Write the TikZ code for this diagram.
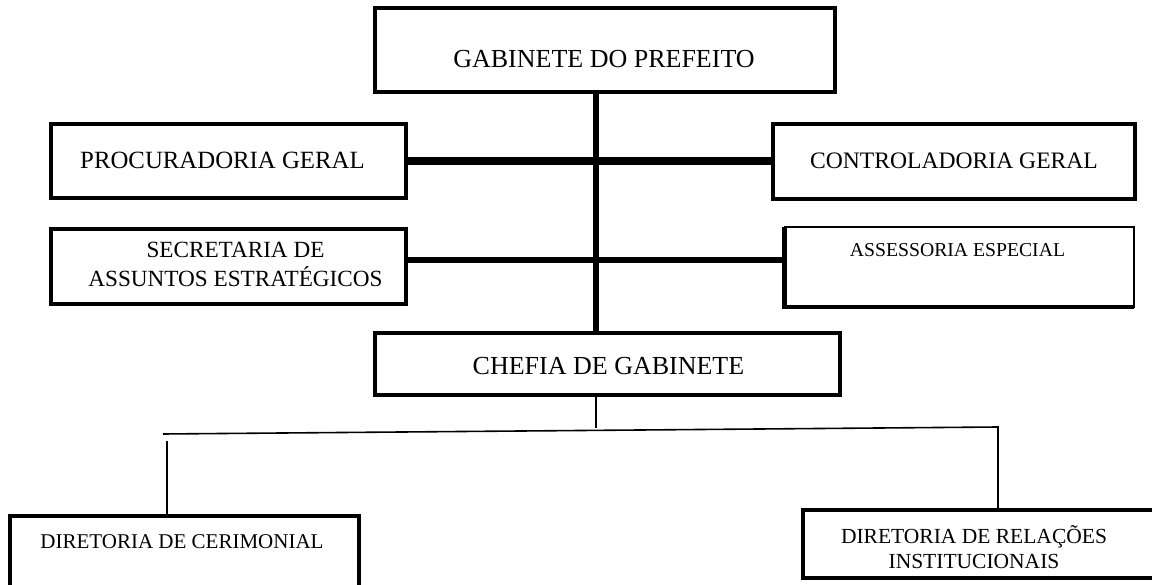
\documentclass[tikz,border=0pt]{standalone}
\usepackage{fontspec}
\setmainfont{Liberation Serif}
\tikzset{
  box/.style={draw, rectangle, line width=4pt, inner sep=0pt, outer sep=0pt},
  lbl/.style={inner sep=0pt, anchor=base},
  trunk/.style={line width=6pt},
  thinline/.style={line width=1.6pt},
}
\newcommand{\fs}[1]{\fontsize{#1}{#1}\selectfont}
\begin{document}
\begin{tikzpicture}[x=1pt,y=-1pt]
\useasboundingbox (0,0) rectangle (1152,585);
\clip (0,0) rectangle (1152,585);
% boxes
\node[box, minimum width=460pt, minimum height=84.5pt] (gab) at (605,50.25) {};
\node[box, minimum width=355pt, minimum height=74pt] (proc) at (228,161) {};
\node[box, minimum width=355pt, minimum height=75.5pt] (sec) at (228,266.75) {};
\node[box, minimum width=362.5pt, minimum height=75pt] (ctrl) at (953.75,161.5) {};
\node[box, line width=2pt, minimum width=349.5pt, minimum height=80pt] (asse) at (959.25,267) {};
\draw[line width=4.5pt] (asse.north west) -- (asse.south west) -- (asse.south east);
\node[box, minimum width=465pt, minimum height=61.5pt] (chef) at (607.5,364.25) {};
\node[box, minimum width=349pt, minimum height=104.5pt] (cer) at (184.5,567.75) {};
\node[box, minimum width=367.5pt, minimum height=68.5pt] (rel) at (986.25,543.75) {};
% texts
\node[lbl, font=\fs{26}] (gabT) at (604,68) {GABINETE DO PREFEITO};
\node[lbl, font=\fs{24.8}] (procT) at (222.5,169) {PROCURADORIA GERAL};
\node[lbl, font=\fs{23.6}] (ctrlT) at (954,169) {CONTROLADORIA GERAL};
\node[lbl, font=\fs{23.2}] (secA) at (235.5,258) {SECRETARIA DE};
\node[lbl, font=\fs{23.2}] (secB) at (235.5,287) {ASSUNTOS ESTRATÉGICOS};
\node[lbl, font=\fs{19.7}] (asseT) at (957.5,257) {ASSESSORIA ESPECIAL};
\node[lbl, font=\fs{26}] (chefT) at (608.5,374) {CHEFIA DE GABINETE};
\node[lbl, font=\fs{21}] (cerT) at (182,548) {DIRETORIA DE CERIMONIAL};
\node[lbl, font=\fs{21.5}] (relA) at (974,543) {DIRETORIA DE RELAÇÕES};
\node[lbl, font=\fs{21.5}] (relB) at (974,568) {INSTITUCIONAIS};
% connectors
\coordinate (sp) at (596,0);
\coordinate (h2) at (0,260.5);
\coordinate (bus) at (0,428);
\coordinate (bl) at (163,434);
\coordinate (br) at (998,427);
\coordinate (lv) at (167,441);
\draw[trunk] (gab.south -| sp) -- (chef.north -| sp);
\draw[line width=8pt] (proc.east) -- (proc.east -| ctrl.west);
\draw[trunk] (sec.east |- h2) -- (asse.west |- h2);
\draw[thinline] (chef.south -| sp) -- (sp |- bus);
\draw[thinline] (bl) -- (br) -- (rel.north -| br);
\draw[thinline] (lv) -- (cer.north -| lv);
\end{tikzpicture}
\end{document}
